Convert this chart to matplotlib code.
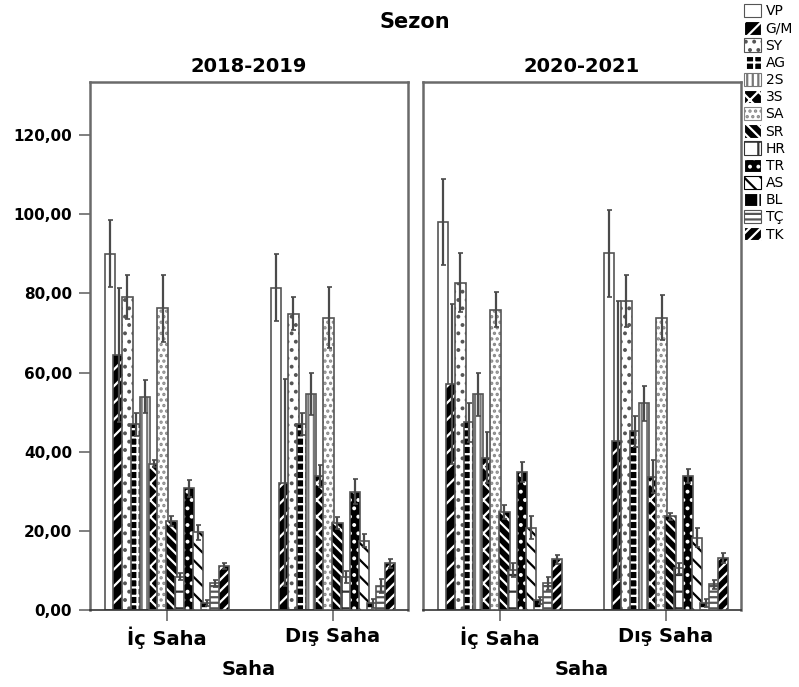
import matplotlib
matplotlib.use("Agg")
import matplotlib.pyplot as plt
import matplotlib.patches as mpatches
import numpy as np

plt.rcParams['font.family'] = ['DejaVu Sans']
plt.rcParams['hatch.linewidth'] = 1.6

# ---- data ----
seasons = ["2018-2019", "2020-2021"]
venues = ["İç Saha", "Dış Saha"]
series = ["VP", "G/M", "SY", "AG", "2S", "3S", "SA", "SR", "HR", "TR", "AS", "BL", "TÇ", "TK"]

# means [season][venue][series]
means_2018_ic = [90.0, 64.4, 79.1, 46.9, 53.9, 37.0, 76.2, 22.5, 8.4, 30.7, 19.6, 1.7, 6.7, 11.1]
means_2018_dis = [81.4, 32.2, 74.9, 47.0, 54.5, 33.9, 73.9, 22.0, 8.4, 29.9, 17.5, 1.7, 6.1, 11.8]
means_2020_ic = [98.1, 57.1, 82.7, 47.4, 54.5, 38.5, 75.9, 24.7, 10.1, 34.8, 20.8, 2.5, 6.7, 12.8]
means_2020_dis = [90.1, 42.8, 78.1, 45.2, 52.2, 33.7, 73.9, 23.7, 10.5, 33.9, 18.3, 1.7, 6.5, 13.1]

err_2018_ic = [8.5, 17.0, 5.6, 2.9, 4.2, 0.9, 8.5, 1.3, 0.9, 2.1, 2.0, 0.8, 0.9, 0.8]
err_2018_dis = [8.5, 26.1, 4.1, 2.7, 5.3, 2.7, 7.6, 1.6, 1.5, 3.1, 1.7, 1.1, 1.7, 1.1]
err_2020_ic = [10.9, 20.2, 7.5, 5.0, 5.4, 6.4, 4.5, 1.8, 1.7, 2.5, 2.9, 0.9, 1.7, 1.1]
err_2020_dis = [11.0, 35.2, 6.6, 3.9, 4.4, 4.2, 5.8, 0.9, 1.5, 1.7, 2.5, 1.0, 1.1, 1.2]

yticks = [0, 20, 40, 60, 80, 100, 120]
ytick_labels = ["0,00", "20,00", "40,00", "60,00", "80,00", "100,00", "120,00"]

panel_means = [[means_2018_ic, means_2018_dis], [means_2020_ic, means_2020_dis]]
panel_errs = [[err_2018_ic, err_2018_dis], [err_2020_ic, err_2020_dis]]

# ---- styles: (facecolor, hatch, hatchcolor) ----
styles = {
    "VP": ("white", None, None),
    "G/M": ("black", "//", "white"),
    "SY": ("white", "..", "#555555"),
    "AG": ("black", "++", "white"),
    "2S": ("white", "|||", "#777777"),
    "3S": ("black", "xx", "white"),
    "SA": ("white", "...", "#888888"),
    "SR": ("black", "\\\\\\", "white"),
    "HR": ("white", "+", "#333333"),
    "TR": ("black", "..", "white"),
    "AS": ("white", "\\\\", "black"),
    "BL": ("black", "+", "white"),
    "TÇ": ("white", "---", "#555555"),
    "TK": ("black", "///", "white"),
}

outline = "#555555"
spine_c = "#6a6a6a"

fig = plt.figure(figsize=(7.99, 6.87), dpi=100)
W, H = 799, 687
ax_w = 318 / W
ax_h = 528 / H
bottom = 1 - 610 / H
lefts = [90 / W, 423 / W]

n = len(series)
step = 0.053
bw = 0.062
x = np.arange(len(venues))

axes = []
for p in range(2):
    ax = fig.add_axes([lefts[p], bottom, ax_w, ax_h])
    axes.append(ax)
    for i, s in enumerate(series):
        fc, hatch, hc = styles[s]
        vals = [panel_means[p][v][i] for v in range(len(venues))]
        errs = [panel_errs[p][v][i] for v in range(len(venues))]
        pos = x + (i - (n - 1) / 2) * step
        z = 2 + i * 0.1
        if hatch:
            ax.bar(pos, vals, width=bw, color=fc, edgecolor=hc, hatch=hatch,
                   linewidth=0, zorder=z)
        else:
            ax.bar(pos, vals, width=bw, color=fc, linewidth=0, zorder=z)
        ax.bar(pos, vals, width=bw, fill=False, edgecolor=outline,
               linewidth=1.2, zorder=z + 0.01)
        ax.errorbar(pos, vals, yerr=errs, fmt='none', ecolor="#4a4a4a",
                    elinewidth=1.6, capsize=1.8, capthick=1.2, zorder=z + 0.05)
    ax.set_xlim(-0.464, 1.452)
    ax.set_ylim(0, 133.4)
    ax.set_xticks(x)
    ax.set_xticklabels(venues, fontsize=14, fontweight='bold')
    ax.set_yticks(yticks)
    ax.tick_params(axis='both', direction='out', length=8, width=1.2, color=spine_c, pad=4)
    if p == 0:
        ax.set_yticklabels(ytick_labels, fontsize=11, fontweight='bold')
        ax.tick_params(axis='y', pad=5)
    else:
        ax.set_yticklabels([])
        ax.tick_params(axis='y', length=0)
    for sp in ["left", "top", "right"]:
        ax.spines[sp].set_color(spine_c)
        ax.spines[sp].set_linewidth(1.8)
    ax.spines["bottom"].set_color("#333333")
    ax.spines["bottom"].set_linewidth(1.2)
    ax.set_title(seasons[p], fontsize=14, fontweight='bold', pad=7)
    ax.set_xlabel("Saha", fontsize=14, fontweight='bold', labelpad=8)

fig.text(415 / W, 1 - 28 / H, "Sezon", ha='center', va='baseline',
         fontsize=15, fontweight='bold')

handles = []
for s in series:
    fc, hatch, hc = styles[s]
    handles.append(mpatches.Patch(facecolor=fc, edgecolor=hc if hatch else outline,
                                  hatch=hatch, linewidth=0.8))
fig.legend(handles, series, loc='upper left', bbox_to_anchor=(744 / W, 1 - 4 / H),
           frameon=False, fontsize=10, handlelength=1.2, handleheight=1.1,
           labelspacing=0.2, handletextpad=0.35, borderpad=0, borderaxespad=0)

fig.savefig("out.png", dpi=100)
